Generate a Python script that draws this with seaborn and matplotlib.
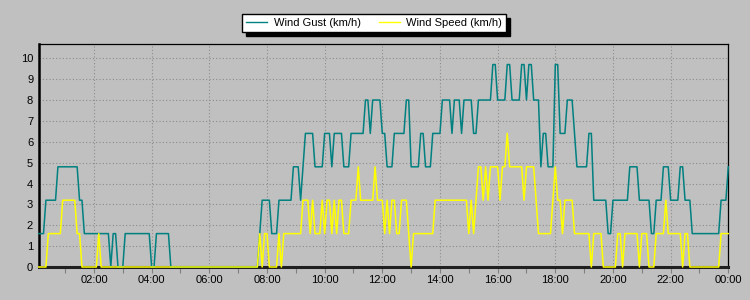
import matplotlib
matplotlib.use("Agg")
import matplotlib.pyplot as plt
import seaborn as sns
import pandas as pd

# ---- data ----
series_names = ["Wind Gust (km/h)", "Wind Speed (km/h)"]

gust_times = [
    "00:05", "00:15", "00:20", "00:40", "00:45", "01:25", "01:30", "01:35", "01:40",
    "02:30", "02:35", "02:40", "02:45", "02:50", "03:00", "03:05", "03:55", "04:00",
    "04:05", "04:10", "04:35", "04:40", "07:40", "07:45", "07:50", "08:05", "08:10",
    "08:20", "08:25", "08:50", "08:55", "09:05", "09:10", "09:15", "09:20", "09:35",
    "09:40", "09:55", "10:00", "10:10", "10:15", "10:20", "10:35", "10:40", "10:50",
    "10:55", "11:20", "11:25", "11:30", "11:35", "11:40", "11:55", "12:00", "12:05",
    "12:10", "12:20", "12:25", "12:45", "12:50", "12:55", "13:00", "13:15", "13:20",
    "13:25", "13:30", "13:40", "13:45", "14:00", "14:05", "14:20", "14:25", "14:30",
    "14:40", "14:45", "14:50", "15:05", "15:10", "15:15", "15:20", "15:45", "15:50",
    "15:55", "16:00", "16:15", "16:20", "16:25", "16:30", "16:45", "16:50", "16:55",
    "17:00", "17:05", "17:10", "17:15", "17:25", "17:30", "17:35", "17:40", "17:45",
    "17:55", "18:00", "18:05", "18:10", "18:20", "18:25", "18:35", "18:40", "18:45",
    "19:05", "19:10", "19:15", "19:20", "19:45", "19:50", "19:55", "20:00", "20:30",
    "20:35", "20:50", "20:55", "21:15", "21:20", "21:25", "21:30", "21:40", "21:45",
    "21:55", "22:00", "22:15", "22:20", "22:25", "22:30", "22:40", "22:45", "23:40",
    "23:45", "23:55", "24:00",
]
gust_values = [
    1.6, 1.6, 3.2, 3.2, 4.8, 4.8, 3.2, 3.2, 1.6,
    1.6, 0, 1.6, 1.6, 0, 0, 1.6, 1.6, 0,
    0, 1.6, 1.6, 0, 0, 1.6, 3.2, 3.2, 1.6,
    1.6, 3.2, 3.2, 4.8, 4.8, 3.2, 4.8, 6.4, 6.4,
    4.8, 4.8, 6.4, 6.4, 4.8, 6.4, 6.4, 4.8, 4.8,
    6.4, 6.4, 8.0, 8.0, 6.4, 8.0, 8.0, 6.4, 6.4,
    4.8, 4.8, 6.4, 6.4, 8.0, 8.0, 4.8, 4.8, 6.4,
    6.4, 4.8, 4.8, 6.4, 6.4, 8.0, 8.0, 6.4, 8.0,
    8.0, 6.4, 8.0, 8.0, 6.4, 6.4, 8.0, 8.0, 9.7,
    9.7, 8.0, 8.0, 9.7, 9.7, 8.0, 8.0, 9.7, 9.7,
    8.0, 9.7, 9.7, 8.0, 8.0, 4.8, 6.4, 6.4, 4.8,
    4.8, 9.7, 9.7, 6.4, 6.4, 8.0, 8.0, 6.4, 4.8,
    4.8, 6.4, 6.4, 3.2, 3.2, 1.6, 1.6, 3.2, 3.2,
    4.8, 4.8, 3.2, 3.2, 1.6, 1.6, 3.2, 3.2, 4.8,
    4.8, 3.2, 3.2, 4.8, 4.8, 3.2, 3.2, 1.6, 1.6,
    3.2, 3.2, 4.8,
]

speed_times = [
    "00:05", "00:20", "00:25", "00:50", "00:55", "01:20", "01:25", "01:30", "01:35",
    "02:05", "02:10", "02:15", "07:40", "07:45", "07:50", "07:55", "08:00", "08:05",
    "08:20", "08:25", "08:30", "08:35", "09:10", "09:15", "09:25", "09:30", "09:35",
    "09:40", "09:50", "09:55", "10:00", "10:05", "10:10", "10:15", "10:20", "10:25",
    "10:30", "10:35", "10:40", "10:50", "10:55", "11:05", "11:10", "11:15", "11:40",
    "11:45", "11:50", "12:00", "12:05", "12:10", "12:15", "12:20", "12:25", "12:30",
    "12:35", "12:40", "12:50", "12:55", "13:00", "13:05", "13:45", "13:50", "14:55",
    "15:00", "15:05", "15:10", "15:15", "15:20", "15:25", "15:30", "15:35", "15:40",
    "15:45", "16:00", "16:05", "16:10", "16:15", "16:20", "16:25", "16:50", "16:55",
    "17:00", "17:15", "17:20", "17:25", "17:50", "17:55", "18:00", "18:05", "18:10",
    "18:15", "18:20", "18:35", "18:40", "19:10", "19:15", "19:20", "19:35", "19:40",
    "20:05", "20:10", "20:15", "20:20", "20:25", "20:50", "20:55", "21:00", "21:10",
    "21:15", "21:25", "21:30", "21:45", "21:50", "21:55", "22:20", "22:25", "22:30",
    "22:35", "22:40", "23:40", "23:45", "24:00",
]
speed_values = [
    0, 0, 1.6, 1.6, 3.2, 3.2, 1.6, 1.6, 0,
    0, 1.6, 0, 0, 1.6, 0, 1.6, 1.6, 0,
    0, 1.6, 0, 1.6, 1.6, 3.2, 3.2, 1.6, 3.2,
    1.6, 1.6, 3.2, 1.6, 3.2, 3.2, 1.6, 3.2, 1.6,
    3.2, 3.2, 1.6, 1.6, 3.2, 3.2, 4.8, 3.2, 3.2,
    4.8, 3.2, 3.2, 1.6, 3.2, 1.6, 3.2, 3.2, 1.6,
    1.6, 3.2, 3.2, 1.6, 0, 1.6, 1.6, 3.2, 3.2,
    1.6, 3.2, 1.6, 3.2, 4.8, 4.8, 3.2, 4.8, 3.2,
    4.8, 4.8, 3.2, 4.8, 4.8, 6.4, 4.8, 4.8, 3.2,
    4.8, 4.8, 3.2, 1.6, 1.6, 3.2, 4.8, 3.2, 3.2,
    1.6, 3.2, 3.2, 1.6, 1.6, 0, 1.6, 1.6, 0,
    0, 1.6, 1.6, 0, 1.6, 1.6, 0, 1.6, 1.6,
    0, 0, 1.6, 1.6, 3.2, 1.6, 1.6, 0, 1.6,
    1.6, 0, 0, 1.6, 1.6,
]

x_tick_hours = [2, 4, 6, 8, 10, 12, 14, 16, 18, 20, 22, 24]
x_tick_labels = ["02:00", "04:00", "06:00", "08:00", "10:00", "12:00",
                 "14:00", "16:00", "18:00", "20:00", "22:00", "00:00"]
y_ticks = [0, 1, 2, 3, 4, 5, 6, 7, 8, 9, 10]

colors = ["#008080", "#FFFF00"]


def to_hours(s):
    h, m = s.split(":")
    return int(h) + int(m) / 60.0


df = pd.concat([
    pd.DataFrame({"hours": [to_hours(t) for t in gust_times],
                  "value": gust_values, "series": series_names[0]}),
    pd.DataFrame({"hours": [to_hours(t) for t in speed_times],
                  "value": speed_values, "series": series_names[1]}),
], ignore_index=True)

plt.rcParams["font.family"] = ["Liberation Sans", "DejaVu Sans"]
bg = "#C0C0C0"

fig = plt.figure(figsize=(7.5, 3.0), dpi=100, facecolor=bg)
ax = fig.add_axes([38.7 / 750, 1 - 267 / 300, (728.3 - 38.7) / 750, (267 - 44.3) / 300])
ax.set_facecolor(bg)

sns.lineplot(data=df, x="hours", y="value", hue="series", hue_order=series_names,
             palette=colors, estimator=None, sort=False, linewidth=1.1, ax=ax)
for ln in ax.lines:
    ln.set_clip_on(False)
    ln.set_zorder(4)

ax.set_xlim(to_hours(gust_times[0]), 24)
ax.set_ylim(0, max(gust_values) * 1.1)
ax.set_xlabel("")
ax.set_ylabel("")

ax.set_xticks(x_tick_hours)
ax.set_xticklabels(x_tick_labels)
ax.set_xticks(list(range(1, 24, 2)), minor=True)
ax.set_yticks(y_ticks)
ax.set_yticklabels([str(v) for v in y_ticks])

ax.tick_params(axis="x", which="both", length=4, width=0.8, color="#808080",
               labelsize=8, pad=2, labelcolor="black")
ax.tick_params(axis="y", which="both", length=0, labelsize=8, pad=4, labelcolor="black")

ax.grid(True, which="major", color="#8C8C8C", linestyle=(0, (1, 2)), linewidth=0.8)
ax.set_axisbelow(True)

for side in ["top", "right"]:
    ax.spines[side].set_color("black")
    ax.spines[side].set_linewidth(0.9)
ax.spines["left"].set_color("black")
ax.spines["left"].set_linewidth(1.8)
ax.spines["bottom"].set_color("#202020")
ax.spines["bottom"].set_linewidth(2.2)

handles = ax.get_legend().legend_handles
ax.get_legend().remove()
leg = fig.legend(handles, series_names, loc="center", bbox_to_anchor=(0.499, 0.923),
                 ncol=2, frameon=True, fancybox=False,
                 shadow={"color": "black", "alpha": 1.0, "ox": 3, "oy": -3},
                 fontsize=8, handlelength=1.9, handletextpad=0.6, columnspacing=1.6,
                 borderpad=0.35, borderaxespad=0)
leg.get_frame().set_facecolor("white")
leg.get_frame().set_edgecolor("black")
leg.get_frame().set_linewidth(1.0)
for h in leg.legend_handles:
    h.set_linewidth(1.0)

fig.savefig("out.png", dpi=100, facecolor=bg)
